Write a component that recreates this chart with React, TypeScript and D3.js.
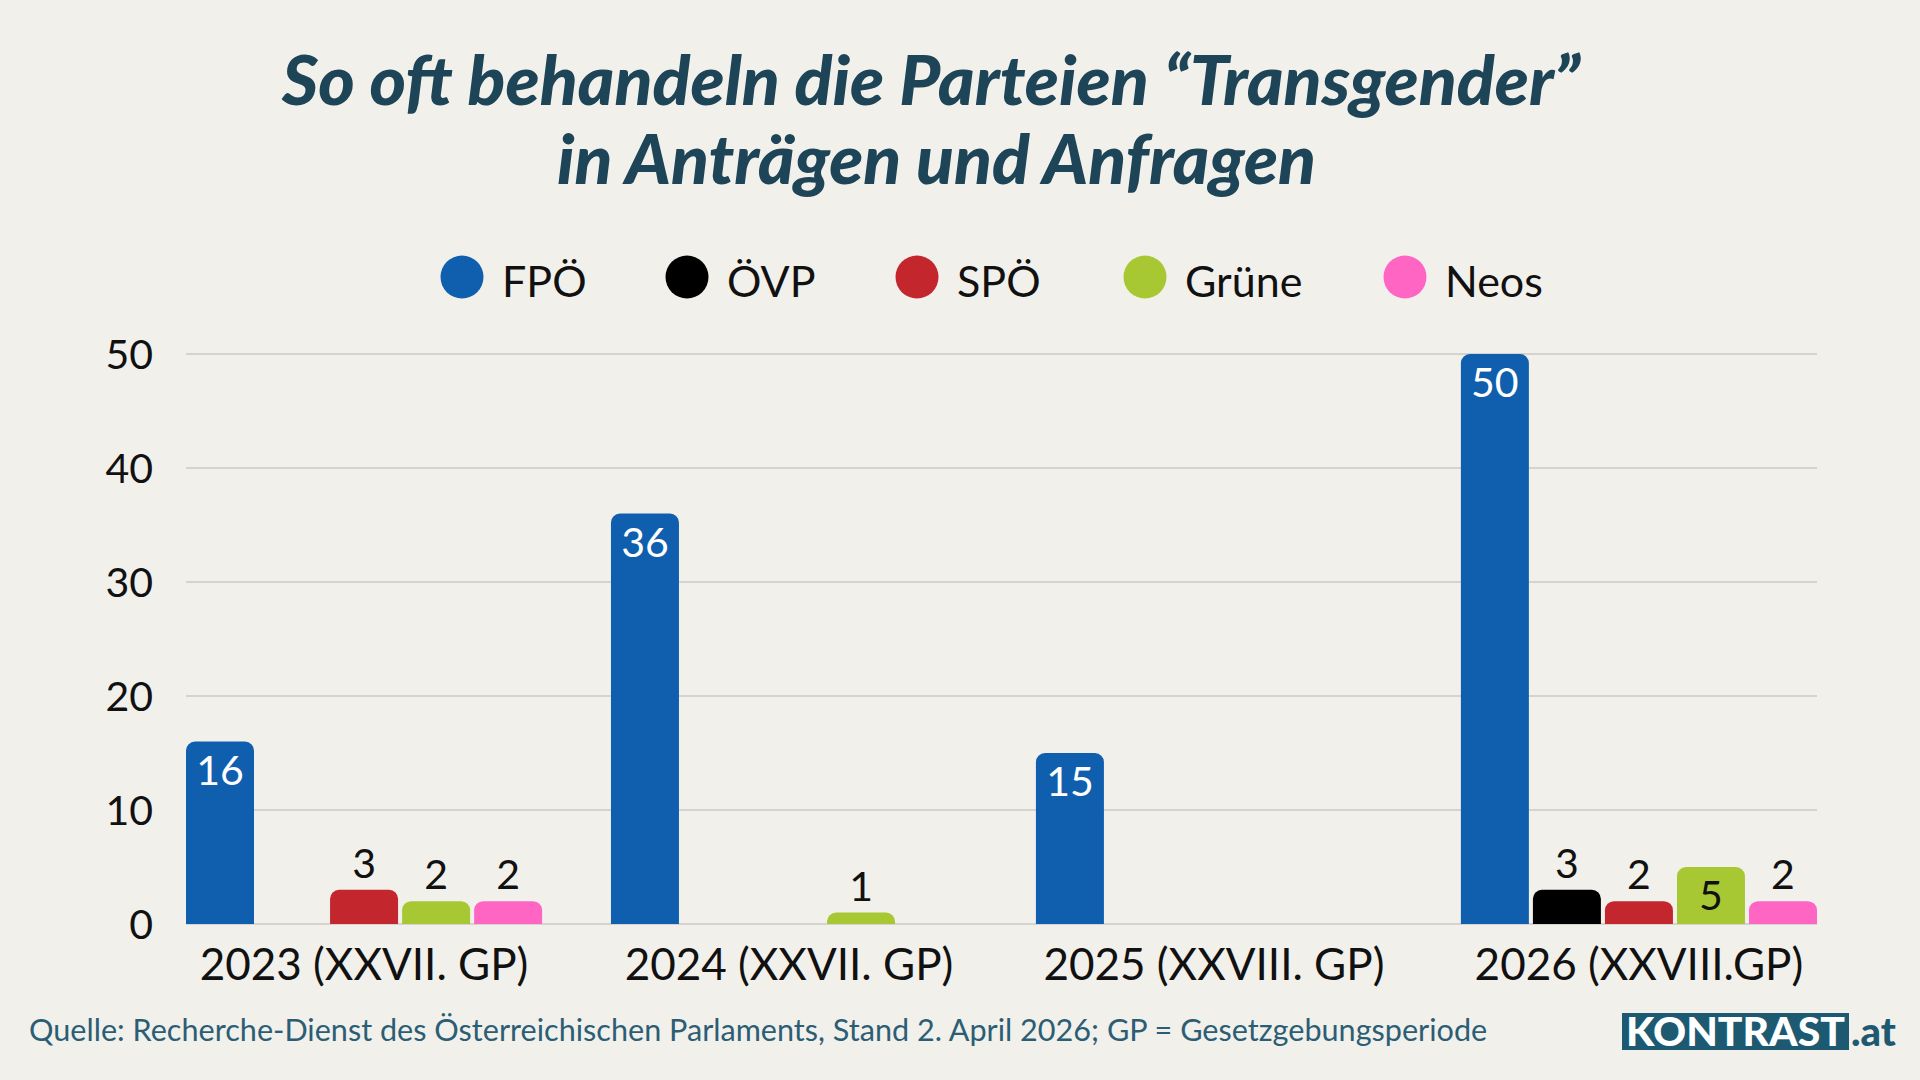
import React from "react";
import * as d3 from "d3";

// chart values
const categories = [
  "2023 (XXVII. GP)",
  "2024 (XXVII. GP)",
  "2025 (XXVIII. GP)",
  "2026 (XXVIII.GP)",
];
const parties = ["FPÖ", "ÖVP", "SPÖ", "Grüne", "Neos"];
const fpoValues = [16, 36, 15, 50];
const ovpValues = [0, 0, 0, 3];
const spoValues = [3, 0, 0, 2];
const grueneValues = [2, 1, 0, 5];
const neosValues = [2, 0, 0, 2];
const yTicks = [0, 10, 20, 30, 40, 50];

const partyColors = ["#0f5fae", "#000000", "#c4262e", "#a8c833", "#ff66c4"];
const insideLabelColors = ["#ffffff", "#ffffff", "#ffffff", "#111111", "#111111"];

const title1 = "So oft behandeln die Parteien “Transgender”";
const title2 = "in Anträgen und Anfragen";
const source =
  "Quelle: Recherche-Dienst des Österreichischen Parlaments, Stand 2. April 2026; GP = Gesetzgebungsperiode";

const W = 1920;
const H = 1080;
const BG = "#f2f0eb";
const TITLE = "#1e4457";
const FONT = "Lato, 'Noto Sans', sans-serif";

const seriesValues = [fpoValues, ovpValues, spoValues, grueneValues, neosValues];

// bar with rounded top corners only
function topRounded(x: number, y: number, w: number, h: number, r: number) {
  const rr = Math.min(r, h, w / 2);
  return `M${x},${y + h}V${y + rr}A${rr},${rr} 0 0 1 ${x + rr},${y}H${x + w - rr}A${rr},${rr} 0 0 1 ${x + w},${y + rr}V${y + h}Z`;
}

const App: React.FC = () => {
  const x0 = d3.scaleBand<string>().domain(categories).range([186, 1817]).paddingInner(0.162).paddingOuter(0);
  const x1 = d3.scaleBand<string>().domain(parties).range([0, x0.bandwidth()]).paddingInner(0.056).paddingOuter(0);
  const y = d3.scaleLinear().domain([0, 50]).range([924, 354]);

  const legendX = [462, 687, 917, 1145, 1405];

  return (
    <svg
      width={W}
      height={H}
      viewBox={`0 0 ${W} ${H}`}
      style={{ position: "absolute", left: 0, top: 0, display: "block" }}
      fontFamily={FONT}
    >
      <rect width={W} height={H} fill={BG} />

      {/* title */}
      <text
        x={282}
        y={105}
        fill={TITLE}
        fontSize={68}
        fontWeight={900}
        fontStyle="italic"
        textLength={1298}
        lengthAdjust="spacingAndGlyphs"
      >
        {title1}
      </text>
      <text
        x={557}
        y={184}
        fill={TITLE}
        fontSize={68}
        fontWeight={900}
        fontStyle="italic"
        textLength={759}
        lengthAdjust="spacingAndGlyphs"
      >
        {title2}
      </text>

      {/* legend */}
      {parties.map((p, i) => (
        <g key={p}>
          <circle cx={legendX[i]} cy={277} r={21.5} fill={partyColors[i]} />
          <text x={legendX[i] + 40} y={297} fontSize={43} fill="#111">
            {p}
          </text>
        </g>
      ))}

      {/* grid + y ticks */}
      {yTicks.map((t) => (
        <g key={t}>
          <line x1={186} x2={1817} y1={y(t)} y2={y(t)} stroke="#cacaca" strokeWidth={1.5} />
          <text x={153} y={y(t)} dy="0.36em" textAnchor="end" fontSize={41} fill="#111">
            {t}
          </text>
        </g>
      ))}

      {/* bars */}
      {categories.map((c, ci) => (
        <g key={c} transform={`translate(${x0(c)},0)`}>
          {parties.map((p, pi) => {
            const v = seriesValues[pi][ci];
            if (!v) return null;
            const bx = x1(p)!;
            const bw = x1.bandwidth();
            const top = y(v);
            const h = y(0) - top;
            const inside = h > 50;
            return (
              <g key={p}>
                <path d={topRounded(bx, top, bw, h, 9)} fill={partyColors[pi]} />
                <text
                  x={bx + bw / 2}
                  y={inside ? top + 43 : top - 12}
                  textAnchor="middle"
                  fontSize={41}
                  fill={inside ? insideLabelColors[pi] : "#111"}
                >
                  {v}
                </text>
              </g>
            );
          })}
          <text
            x={x0.bandwidth() / 2}
            y={980}
            textAnchor="middle"
            fontSize={44}
            fill="#111"
          >
            {c}
          </text>
        </g>
      ))}

      {/* footer */}
      <text x={29} y={1041} fontSize={30.6} fill="#2b5e75">
        {source}
      </text>
      <rect x={1622} y={1013} width={227} height={37} fill="#1d5a72" />
      <text
        x={1626}
        y={1046}
        fontSize={40}
        fontWeight={900}
        fill="#ffffff"
        textLength={219}
        lengthAdjust="spacingAndGlyphs"
      >
        KONTRAST
      </text>
      <text x={1851} y={1046} fontSize={40} fontWeight={900} fill="#1d5a72">
        .at
      </text>
    </svg>
  );
};

export default App;
